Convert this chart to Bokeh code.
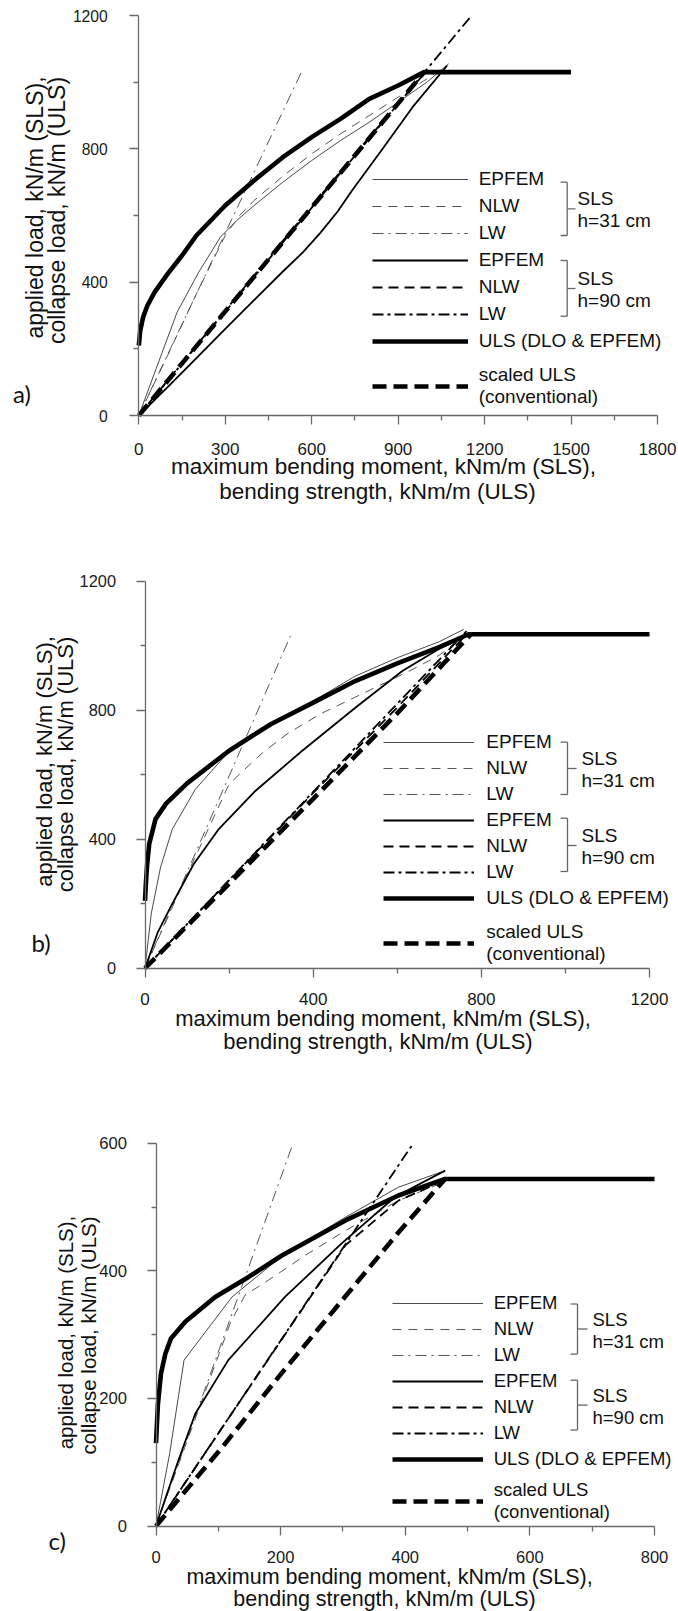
from math import pi
from bokeh.plotting import figure
from bokeh.models import Range1d, FixedTicker, Legend, LegendItem, Label
from bokeh.layouts import column
from bokeh.embed import file_html
from bokeh.resources import INLINE

# ---------------- data (x: bending moment kNm/m, y: load kN/m) ----------------
# panel a)
a_epfem31_x = [0, 60, 133, 208, 283, 340, 400, 500, 600, 700, 800, 900, 1000, 1075]
a_epfem31_y = [0, 140, 310, 430, 535, 585, 630, 700, 765, 825, 880, 940, 1000, 1055]
a_nlw31_x = [0, 100, 200, 300, 350, 400, 500, 600, 700, 800, 900, 1000, 1060]
a_nlw31_y = [0, 180, 365, 540, 600, 645, 718, 785, 845, 900, 955, 1010, 1045]
a_lw31_x = [0, 567]
a_lw31_y = [0, 1035]
a_epfem90_x = [0, 100, 200, 300, 400, 500, 570, 630, 690, 740, 850, 950, 1070]
a_epfem90_y = [0, 85, 172, 260, 346, 432, 490, 548, 612, 675, 805, 925, 1050]
a_nlw90_x = [0, 200, 400, 600, 800, 950, 1000]
a_nlw90_y = [0, 210, 420, 628, 835, 985, 1035]
a_lw90_x = [0, 1155]
a_lw90_y = [0, 1200]
a_uls_x = [0, 5, 15, 30, 55, 100, 150, 200, 300, 400, 500, 600, 700, 800, 900, 990, 1500]
a_uls_y = [210, 255, 295, 330, 370, 425, 480, 540, 630, 705, 775, 835, 890, 950, 990, 1030, 1030]
a_scaled_x = [0, 990]
a_scaled_y = [0, 1030]

# panel b)
b_epfem31_x = [0, 15, 37, 65, 120, 200, 300, 400, 500, 600, 700, 758]
b_epfem31_y = [0, 170, 313, 431, 555, 672, 758, 828, 905, 962, 1012, 1050]
b_nlw31_x = [0, 100, 200, 240, 280, 340, 420, 500, 580, 650, 700, 760]
b_nlw31_y = [0, 290, 570, 620, 668, 728, 790, 840, 890, 935, 970, 1030]
b_lw31_x = [0, 346]
b_lw31_y = [0, 1030]
b_epfem90_x = [0, 30, 65, 116, 176, 263, 374, 501, 612, 700, 770]
b_epfem90_y = [0, 110, 200, 323, 432, 550, 674, 808, 921, 990, 1035]
b_nlw90_x = [0, 200, 400, 600, 765]
b_nlw90_y = [0, 272, 543, 808, 1035]
b_lw90_x = [0, 765]
b_lw90_y = [0, 1045]
b_uls_x = [0, 2, 5, 10, 25, 50, 100, 200, 300, 400, 500, 600, 700, 770, 1200]
b_uls_y = [209, 260, 320, 385, 462, 510, 573, 674, 757, 823, 890, 945, 995, 1035, 1035]
b_scaled_x = [0, 200, 400, 600, 775]
b_scaled_y = [0, 262, 525, 790, 1035]

# panel c)
c_epfem31_x = [0, 22, 45, 122, 207, 304, 389, 464]
c_epfem31_y = [0, 114, 260, 359, 427, 484, 531, 557]
c_nlw31_x = [0, 60, 120, 143, 164, 200, 239, 304, 389, 454]
c_nlw31_y = [0, 160, 320, 362, 375, 398, 424, 463, 510, 536]
c_lw31_x = [0, 220]
c_lw31_y = [0, 600]
c_epfem90_x = [0, 36, 63, 116, 207, 298, 384, 464]
c_epfem90_y = [0, 103, 176, 260, 359, 443, 516, 557]
c_nlw90_x = [0, 100, 200, 250, 304, 389, 450]
c_nlw90_y = [0, 145, 290, 362, 440, 510, 536]
c_lw90_x = [0, 413]
c_lw90_y = [0, 600]
c_uls_x = [0, 3, 8, 15, 24, 47, 95, 148, 202, 250, 304, 389, 464, 800]
c_uls_y = [130, 190, 239, 270, 294, 320, 359, 390, 424, 450, 479, 518, 544, 544]
c_scaled_x = [0, 105, 202, 304, 389, 464]
c_scaled_y = [0, 122, 240, 360, 460, 544]

series_names = ["EPFEM", "NLW", "LW", "EPFEM", "NLW", "LW", "ULS (DLO & EPFEM)", "scaled ULS\n(conventional)"]
group_labels = [["SLS", "h=31 cm"], ["SLS", "h=90 cm"]]
tags = ["a)", "b)", "c)"]
x_title = ["maximum bending moment, kNm/m (SLS),", "bending strength, kNm/m (ULS)"]
y_title = ["applied load, kN/m (SLS),", "collapse load, kN/m (ULS)"]

a_xticks = [0, 300, 600, 900, 1200, 1500, 1800]
b_xticks = [0, 400, 800, 1200]
c_xticks = [0, 200, 400, 600, 800]
ab_yticks = [0, 400, 800, 1200]
c_yticks = [0, 200, 400, 600]

# ---------------- styles ----------------
FONT = "Liberation Sans"
AXIS_COL = "#6a6a6a"
TXT = "#111111"
styles = [
    dict(line_color="#4a4a4a", line_width=1.0),
    dict(line_color="#555555", line_width=1.0, line_dash="9 7"),
    dict(line_color="#555555", line_width=1.0, line_dash="11 5 2 5"),
    dict(line_color="black", line_width=1.8),
    dict(line_color="black", line_width=1.8, line_dash="10 6"),
    dict(line_color="black", line_width=1.8, line_dash="11 4 3 4"),
    dict(line_color="black", line_width=4.6, line_join="round"),
    dict(line_color="black", line_width=4.6, line_dash="14 7"),
]

# layout (page pixels): data-area edges of every panel
panels = [
    dict(data=[(a_epfem31_x, a_epfem31_y), (a_nlw31_x, a_nlw31_y), (a_lw31_x, a_lw31_y),
               (a_epfem90_x, a_epfem90_y), (a_nlw90_x, a_nlw90_y), (a_lw90_x, a_lw90_y),
               (a_uls_x, a_uls_y), (a_scaled_x, a_scaled_y)],
         xmax=1800, ymax=1200, xt=a_xticks, xm=[150, 450, 750, 1050, 1350, 1650],
         yt=ab_yticks, ym=[200, 600, 1000],
         fig_top=0, height=548, L=138.3, R=657, T=15, B=415,
         xtick_size="17px", ytick_size="15.7px", xstand=18, ystand=22,
         tag=tags[0], tag_pos=(21.5, 393),
         yt_pos=[(34, 207), (56.5, 210)], yt_size="23px",
         xt_pos=[(383, 466), (377, 491)], xt_size="22.5px",
         leg_left=371.7, leg_first=179, pitch=27, leg_scaled=380, gw=96, lstand=11, lsize="19px",
         br_x=566.7, br_l=560, br_r=575, groups=[(181.7, 235, 208.3), (260, 315.7, 288)], txt_x=577),
    dict(data=[(b_epfem31_x, b_epfem31_y), (b_nlw31_x, b_nlw31_y), (b_lw31_x, b_lw31_y),
               (b_epfem90_x, b_epfem90_y), (b_nlw90_x, b_nlw90_y), (b_lw90_x, b_lw90_y),
               (b_uls_x, b_uls_y), (b_scaled_x, b_scaled_y)],
         xmax=1200, ymax=1200, xt=b_xticks, xm=[200, 600, 1000],
         yt=ab_yticks, ym=[200, 600, 1000],
         fig_top=548, height=552, L=144.5, R=649, T=580.5, B=967.7,
         xtick_size="17px", ytick_size="16.4px", xstand=16, ystand=20,
         tag=tags[1], tag_pos=(40.5, 942),
         yt_pos=[(44, 761), (65, 764)], yt_size="22px",
         xt_pos=[(382.5, 1018), (377.5, 1041)], xt_size="22px",
         leg_left=383.3, leg_first=742.3, pitch=26, leg_scaled=936.7, gw=91, lstand=12, lsize="19px",
         br_x=567, br_l=560, br_r=576, groups=[(741.7, 794, 768), (817.7, 871, 845)], txt_x=581),
    dict(data=[(c_epfem31_x, c_epfem31_y), (c_nlw31_x, c_nlw31_y), (c_lw31_x, c_lw31_y),
               (c_epfem90_x, c_epfem90_y), (c_nlw90_x, c_nlw90_y), (c_lw90_x, c_lw90_y),
               (c_uls_x, c_uls_y), (c_scaled_x, c_scaled_y)],
         xmax=800, ymax=600, xt=c_xticks, xm=[100, 300, 500, 700],
         yt=c_yticks, ym=[100, 300, 500],
         fig_top=1100, height=511, L=155.5, R=654, T=1142.7, B=1525.5,
         xtick_size="16.5px", ytick_size="16.6px", xstand=16, ystand=20,
         tag=tags[2], tag_pos=(56.7, 1540),
         yt_pos=[(65, 1332), (88, 1335)], yt_size="20.5px",
         xt_pos=[(389, 1576), (384, 1598)], xt_size="21.5px",
         leg_left=391.7, leg_first=1302.5, pitch=26, leg_scaled=1494.8, gw=91, lstand=11, lsize="18.5px",
         br_x=577, br_l=570, br_r=587, groups=[(1303.5, 1353.6, 1328.5), (1379.7, 1429.5, 1404.6)], txt_x=592),
]

W = 678
figs = []
for P in panels:
    Hc = P["height"]
    ft = P["fig_top"]
    L, R = P["L"], P["R"]
    Tl, Bl = P["T"] - ft, P["B"] - ft          # data-area edges in canvas pixels
    ux = P["xmax"] / (R - L)                    # data units per pixel
    uy = P["ymax"] / (Bl - Tl)
    xr = Range1d(-L * ux, (W - L) * ux)
    yr = Range1d(-(Hc - Bl) * uy, Bl * uy)

    def to_data(px, py, L=L, ux=ux, Bl=Bl, uy=uy, ft=ft):
        return ((px - L) * ux, (Bl - (py - ft)) * uy)

    p = figure(width=W, height=Hc, x_range=xr, y_range=yr,
               output_backend="svg", toolbar_location=None,
               min_border_left=0, min_border_right=0, min_border_top=0, min_border_bottom=0)
    p.outline_line_color = None
    p.xgrid.visible = False
    p.ygrid.visible = False
    p.background_fill_color = "white"
    p.border_fill_color = "white"

    for ax, ticks, minor, bnd, fs in ((p.xaxis[0], P["xt"], P["xm"], P["xmax"], P["xtick_size"]),
                                      (p.yaxis[0], P["yt"], P["ym"], P["ymax"], P["ytick_size"])):
        ax.ticker = FixedTicker(ticks=ticks, minor_ticks=minor)
        ax.fixed_location = 0
        ax.bounds = (0, bnd)
        ax.axis_line_color = AXIS_COL
        ax.axis_line_width = 1.3
        ax.major_tick_line_color = AXIS_COL
        ax.minor_tick_line_color = AXIS_COL
        ax.major_tick_line_width = 1.3
        ax.minor_tick_line_width = 1.3
        ax.major_tick_in = 0
        ax.major_tick_out = 9
        ax.minor_tick_in = 0
        ax.minor_tick_out = 5
        ax.major_label_text_font = FONT
        ax.major_label_text_font_size = fs
        ax.major_label_text_color = "#1a1a1a"
    p.xaxis[0].major_label_standoff = P["xstand"]
    p.yaxis[0].major_label_standoff = P["ystand"]

    rends = []
    for (xs, ys), st in zip(P["data"], styles):
        rends.append(p.line(xs, ys, **st))

    # legend (7 single-line entries + 1 two-line entry); location is from the canvas bottom-left
    H = 22
    last_c = P["leg_first"] + 6 * P["pitch"]
    leg_x = P["leg_left"]
    leg1 = Legend(items=[LegendItem(label=series_names[i], renderers=[rends[i]]) for i in range(7)],
                  location=(leg_x, Hc - (last_c - ft + H / 2)),
                  orientation="vertical", padding=0, margin=0, spacing=P["pitch"] - H,
                  glyph_width=P["gw"], glyph_height=H, label_height=H, label_standoff=P["lstand"],
                  label_text_font=FONT, label_text_font_size=P["lsize"], label_text_color=TXT,
                  border_line_alpha=0, background_fill_alpha=0)
    H2 = 44
    leg2 = Legend(items=[LegendItem(label=series_names[7], renderers=[rends[7]])],
                  location=(leg_x, Hc - (P["leg_scaled"] - ft + H2 / 2) - 6),
                  orientation="vertical", padding=0, margin=0, spacing=0,
                  glyph_width=P["gw"], glyph_height=H, label_height=H, label_standoff=P["lstand"],
                  label_text_font=FONT, label_text_font_size=P["lsize"], label_text_color=TXT,
                  label_text_line_height=1.15,
                  border_line_alpha=0, background_fill_alpha=0)
    p.add_layout(leg1)
    p.add_layout(leg2)

    # brackets grouping the SLS entries
    sx0, sy0, sx1, sy1 = [], [], [], []
    for (gt, gb, gm) in P["groups"]:
        for (ax_, ay_, bx_, by_) in ((P["br_l"], gt, P["br_x"], gt), (P["br_x"], gt, P["br_x"], gb),
                                     (P["br_l"], gb, P["br_x"], gb), (P["br_x"], gm, P["br_r"], gm)):
            d0 = to_data(ax_, ay_)
            d1 = to_data(bx_, by_)
            sx0.append(d0[0]); sy0.append(d0[1]); sx1.append(d1[0]); sy1.append(d1[1])
    p.segment(sx0, sy0, sx1, sy1, line_color="#666666", line_width=1.3)
    for (gt, gb, gm), labs in zip(P["groups"], group_labels):
        for dy, t in zip((-10, 12), labs):
            lx, ly = to_data(P["txt_x"], gm + dy)
            p.add_layout(Label(x=lx, y=ly, text=t, text_align="left", text_baseline="middle",
                               text_font=FONT, text_font_size=P["lsize"], text_color=TXT))

    # panel tag
    tx, ty = to_data(*P["tag_pos"])
    p.add_layout(Label(x=tx, y=ty, text=P["tag"], text_align="center", text_baseline="middle",
                       text_font="Lato", text_font_size="24px", text_color=TXT))
    # axis titles
    for (px_, py_), t in zip(P["yt_pos"], y_title):
        lx, ly = to_data(px_, py_)
        p.add_layout(Label(x=lx, y=ly, text=t, angle=pi / 2, text_align="center", text_baseline="middle",
                           text_font=FONT, text_font_size=P["yt_size"], text_color=TXT))
    for (px_, py_), t in zip(P["xt_pos"], x_title):
        lx, ly = to_data(px_, py_)
        p.add_layout(Label(x=lx, y=ly, text=t, text_align="center", text_baseline="middle",
                           text_font=FONT, text_font_size=P["xt_size"], text_color=TXT))
    figs.append(p)

layout = column(*figs, spacing=0)
open("out.html", "w").write(file_html(layout, INLINE))
